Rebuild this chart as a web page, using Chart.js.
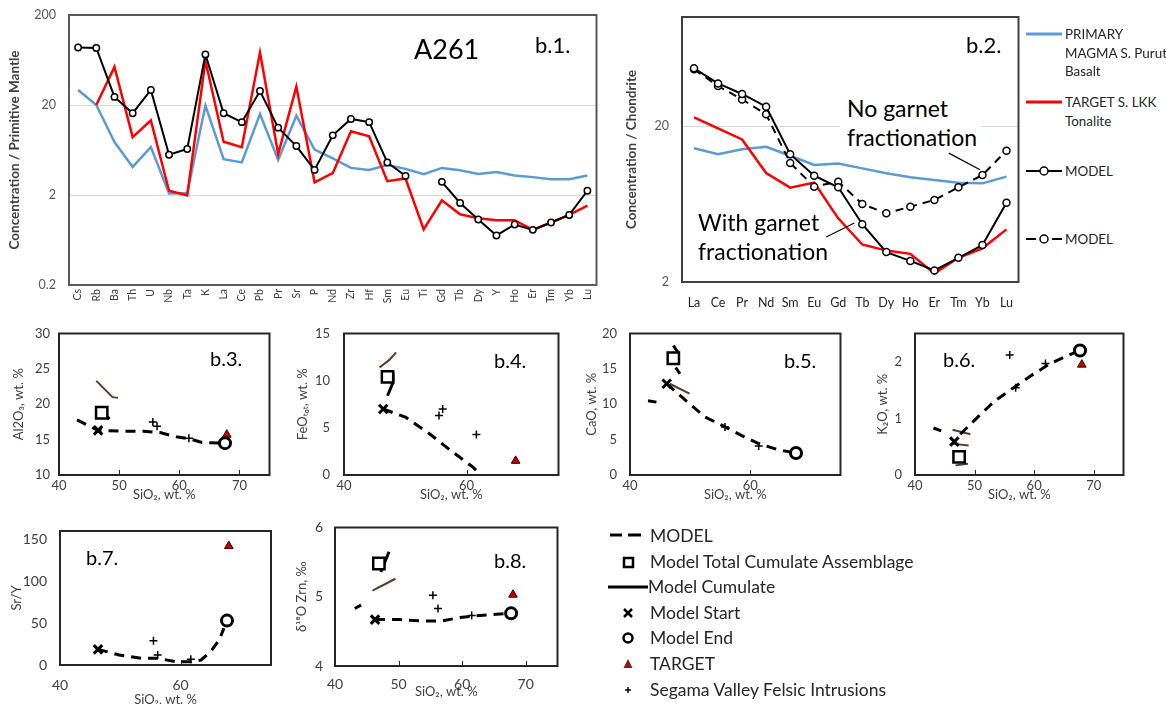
<!DOCTYPE html>
<html>
<head>
<meta charset="utf-8">
<script src="https://cdn.jsdelivr.net/npm/chart.js@4.4.1/dist/chart.umd.min.js"></script>
<style>
  html, body { margin: 0; padding: 0; background: #fff; overflow: hidden; }
  body { width: 1166px; height: 704px; position: relative; font-family: Lato, "Open Sans", sans-serif; color: #262626; }
  canvas { position: absolute; }
  .lbl { position: absolute; white-space: nowrap; transform: translateY(-50%); line-height: 1; }
  .note { position: absolute; white-space: nowrap; background: #fff; font-size: 23px; line-height: 29px; color: #000; }
  .leg { position: absolute; white-space: nowrap; font-size: 13.4px; line-height: 18.5px; color: #262626; }
  .bl { position: absolute; left: 650px; white-space: nowrap; font-size: 17.5px; color: #262626; transform: translateY(-50%); line-height: 1; }
  svg { position: absolute; overflow: visible; }
</style>
</head>
<body>
<canvas id="b1" width="602" height="310" style="left:0;top:5px"></canvas>
<canvas id="b2" width="404" height="305" style="left:620px;top:7px"></canvas>
<canvas id="b3" width="280" height="180" style="left:0;top:323px"></canvas>
<canvas id="b4" width="279" height="180" style="left:290px;top:323px"></canvas>
<canvas id="b5" width="271" height="180" style="left:580px;top:323px"></canvas>
<canvas id="b6" width="264" height="180" style="left:870px;top:323px"></canvas>
<canvas id="b7" width="280" height="191" style="left:0;top:521px"></canvas>
<canvas id="b8" width="278" height="187" style="left:290px;top:517px"></canvas>

<div class="lbl" style="left:414px;top:48px;font-size:27px;color:#000">A261</div>
<div class="lbl" style="left:535px;top:45px;font-size:22px;color:#000">b.1.</div>
<div class="lbl" style="left:966px;top:45px;font-size:22px;color:#000">b.2.</div>
<div class="note" style="left:840px;top:94px;padding:0 4px 0 7px">No garnet<br>fractionation</div>
<div class="note" style="left:698px;top:208px;background:transparent">With garnet<br>fractionation</div>

<div class="lbl" style="left:210px;top:358px;font-size:20px;color:#000">b.3.</div>
<div class="lbl" style="left:494px;top:360px;font-size:20px;color:#000">b.4.</div>
<div class="lbl" style="left:784px;top:360px;font-size:20px;color:#000">b.5.</div>
<div class="lbl" style="left:943px;top:359px;font-size:20px;color:#000">b.6.</div>
<div class="lbl" style="left:86px;top:557px;font-size:20px;color:#000">b.7.</div>
<div class="lbl" style="left:494px;top:560px;font-size:20px;color:#000">b.8.</div>

<!-- b.1 / b.2 legend -->
<svg width="40" height="240" style="left:1024px;top:20px">
  <line x1="2" y1="14" x2="38" y2="14" stroke="#5b9bd5" stroke-width="3"/>
  <line x1="2" y1="82" x2="38" y2="82" stroke="#ff0000" stroke-width="3"/>
  <line x1="2" y1="151" x2="38" y2="151" stroke="#000" stroke-width="2"/>
  <circle cx="20" cy="151" r="4" fill="#fff" stroke="#000" stroke-width="1.5"/>
  <line x1="2" y1="219" x2="12" y2="219" stroke="#000" stroke-width="2"/>
  <line x1="28" y1="219" x2="38" y2="219" stroke="#000" stroke-width="2"/>
  <circle cx="20" cy="219" r="4" fill="#fff" stroke="#000" stroke-width="1.5"/>
</svg>
<div class="leg" style="left:1065px;top:25px">PRIMARY<br>MAGMA S. Purut<br>Basalt</div>
<div class="leg" style="left:1065px;top:93px">TARGET S. LKK<br>Tonalite</div>
<div class="leg" style="left:1065px;top:162px">MODEL</div>
<div class="leg" style="left:1065px;top:230px">MODEL</div>

<!-- bottom legend -->
<svg width="50" height="170" style="left:605px;top:525px">
  <line x1="5" y1="10" x2="17" y2="10" stroke="#000" stroke-width="3"/>
  <line x1="23" y1="10" x2="36" y2="10" stroke="#000" stroke-width="3"/>
  <rect x="19" y="33" width="9" height="9" fill="#fff" stroke="#000" stroke-width="2.5"/>
  <line x1="3" y1="62" x2="43" y2="62" stroke="#000" stroke-width="3"/>
  <line x1="19" y1="84" x2="27" y2="92" stroke="#000" stroke-width="2.5"/>
  <line x1="27" y1="84" x2="19" y2="92" stroke="#000" stroke-width="2.5"/>
  <circle cx="23" cy="113" r="4.5" fill="#fff" stroke="#000" stroke-width="2.5"/>
  <polygon points="23,134 27.5,143 18.5,143" fill="#8b1a1a"/>
  <line x1="20" y1="165" x2="26" y2="165" stroke="#000" stroke-width="1.5"/>
  <line x1="23" y1="162" x2="23" y2="168" stroke="#000" stroke-width="1.5"/>
</svg>
<div class="bl" style="top:536px">MODEL</div>
<div class="bl" style="top:562px">Model Total Cumulate Assemblage</div>
<div class="bl" style="top:587px;left:648px">Model Cumulate</div>
<div class="bl" style="top:613px">Model Start</div>
<div class="bl" style="top:638px">Model End</div>
<div class="bl" style="top:664px">TARGET</div>
<div class="bl" style="top:690px">Segama Valley Felsic Intrusions</div>

<script>
// b.1 trace elements normalised to primitive mantle
const traceLabels = ['Cs','Rb','Ba','Th','U','Nb','Ta','K','La','Ce','Pb','Pr','Sr','P','Nd','Zr','Hf','Sm','Eu','Ti','Gd','Tb','Dy','Y','Ho','Er','Tm','Yb','Lu'];
const traceModel = [87,86,24.6,16.2,29.4,5.6,6.5,73,16.2,12.9,28.6,11.2,7.0,3.8,9.2,14.0,12.9,4.6,3.26,null,2.8,1.63,1.07,0.71,0.94,0.82,0.99,1.20,2.23];
const traceTarget = [null,20,53,8.8,13.5,2.23,1.98,62,7.8,6.8,76.6,5.7,32,2.77,3.5,10.2,9.0,2.85,3.05,0.83,1.75,1.22,1.1,1.05,1.05,0.82,0.99,1.2,1.52];
const tracePrimary = [29.4,20,7.75,4.1,6.8,2.08,2.1,19.7,5.0,4.6,15.9,4.9,15.2,6.4,5.1,4.0,3.8,4.3,3.9,3.4,4.0,3.77,3.43,3.6,3.3,3.16,3.0,3.0,3.3];
const traceTicks = [0.2, 2, 20, 200];

// b.2 REE normalised to chondrite
const reeLabels = ['La','Ce','Pr','Nd','Sm','Eu','Gd','Tb','Dy','Ho','Er','Tm','Yb','Lu'];
const reeModelGarnet = [46.9,37.5,32.1,26.6,13.2,9.6,8.1,4.69,3.11,2.73,2.37,2.86,3.45,6.45];
const reeModelNoGarnet = [46.2,36.1,29.6,23.8,11.6,8.17,8.8,6.32,5.51,6.08,6.71,8.09,9.7,13.9];
const reeTarget = [22.7,19.3,16.4,10.0,8.05,8.67,5.12,3.48,3.18,3.03,2.27,2.86,3.29,4.35];
const reePrimary = [14.4,13.2,14.2,14.7,12.9,11.25,11.5,10.7,9.95,9.38,9.02,8.67,8.58,9.47];
const reeTicks = [2, 20];
// pointer lines for the two notes, in category index / value units
const reePointers = [[[10.6,13.4],[11.9,10.5]], [[5.5,3.89],[6.67,4.78]]];

// SiO2 ticks
const siTicks = [40, 50, 60, 70];
const siTicksSparse = [40, 60];

// b.3 Al2O3
const alModel = [[43.0,17.8],[46.5,16.3],[50.4,16.2],[54.1,16.2],[56.8,16.0],[59.5,15.4],[61.7,15.1],[63.8,14.6],[67.6,14.5]];
const alCumulate = [[46.2,23.3],[48.9,21.0],[49.8,20.9]];
const alCumulateDark = [[47.6,18.6],[48.4,17.9]];
const alAssemblage = [[47.1,18.8]];
const alStart = [[46.5,16.3]];
const alEnd = [[67.6,14.5]];
const alTarget = [[67.9,15.7]];
const alSegama = [[55.6,17.5],[56.3,16.9],[61.6,15.2]];

// b.4 FeOTot
const feModel = [[46.4,7.0],[50.1,6.1],[53.9,4.4],[57.6,2.5],[60.9,0.9],[62.4,0.0]];
const feCumulate = [[45.8,11.4],[47.4,12.2],[48.5,13.0]];
const feCumulateDark = [[48.0,10.9],[48.0,9.8],[47.1,8.4]];
const feAssemblage = [[47.1,10.4]];
const feStart = [[46.4,7.0]];
const feEnd = [];
const feTarget = [[68.0,1.5]];
const feSegama = [[55.5,6.3],[56.1,7.0],[61.6,4.3]];

// b.5 CaO
const caModel = [[43.0,10.5],[44.4,10.3],null,[46.1,12.9],[49.3,10.5],[52.5,8.2],[55.8,6.8],[58.5,5.6],[61.2,4.5],[64.5,3.6],[67.5,3.1]];
const caCumulate = [[46.6,12.9],[49.9,11.5]];
const caCumulateDark = [[47.2,18.3],[48.0,17.3],null,[47.6,15.2],[48.3,14.3]];
const caAssemblage = [[47.2,16.5]];
const caStart = [[46.1,12.9]];
const caEnd = [[67.6,3.1]];
const caTarget = [[67.9,3.2]];
const caSegama = [[55.8,6.8],[61.4,4.1]];

// b.6 K2O
const kModel = [[43.1,0.83],[44.4,0.78],null,[47.6,0.72],[50.7,1.04],[53.4,1.31],[56.1,1.51],[59.4,1.75],[62.4,1.95],[65.4,2.1],[67.6,2.2]];
const kCumulate = [[46.3,0.80],[49.3,0.72],null,[46.5,0.55],[49.0,0.52],null,[46.8,0.17],[48.9,0.2]];
const kAssemblage = [[47.4,0.32]];
const kStart = [[46.6,0.59]];
const kEnd = [[67.7,2.2]];
const kTarget = [[68.0,1.95]];
const kSegama = [[55.9,2.12],[56.9,1.54],[61.9,1.97]];

// b.7 Sr/Y
const srModel = [[46.3,18.7],[49.8,12],[53.6,8],[56.3,8],[59.1,4],[61.8,4],[63.4,6],[65.0,16],[66.4,30],[67.2,44]];
const srStart = [[46.3,18.7]];
const srEnd = [[67.7,53]];
const srTarget = [[68.0,142]];
const srSegama = [[55.5,29],[56.2,12],[61.7,7]];

// b.8 d18O zircon
const oModel = [[43.1,4.83],[44.1,4.88],null,[46.3,4.67],[50,4.67],[53.6,4.65],[56.7,4.65],[59.7,4.70],[62.8,4.73],[65.9,4.75],[67.7,4.76]];
const oCumulate = [[45.9,5.09],[49.5,5.26]];
const oCumulateDark = [[47.2,5.36],[48.5,5.65]];
const oAssemblage = [[46.9,5.48]];
const oStart = [[46.3,4.67]];
const oEnd = [[67.7,4.76]];
const oTarget = [[68.0,5.03]];
const oSegama = [[55.4,5.02],[56.2,4.83],[61.5,4.73]];

Chart.defaults.font.family = "Lato, 'Open Sans', sans-serif";
Chart.defaults.color = '#404040';

// keep the plot box where layout.padding puts it (no label overhang padding)
const fixW = w => s => { s.width = w; s.paddingTop = 0; s.paddingBottom = 0; };
const fixH = h => s => { s.height = h; s.paddingLeft = 0; s.paddingRight = 0; };

// full box round the plot area + small inward ticks on x
const boxFrame = {
  id: 'boxFrame',
  afterDraw(chart, args, opts) {
    const a = chart.chartArea, ctx = chart.ctx;
    ctx.save();
    ctx.strokeStyle = opts.color || '#262626';
    ctx.lineWidth = opts.width || 2;
    ctx.strokeRect(a.left, a.top, a.right - a.left, a.bottom - a.top);
    if (opts.inTicks) {
      const xs = chart.scales.x;
      ctx.lineWidth = 1;
      xs.ticks.forEach(t => {
        if (t.value > xs.min && t.value < xs.max) {
          const px = Math.round(xs.getPixelForValue(t.value)) + 0.5;
          ctx.beginPath();
          ctx.moveTo(px, a.bottom);
          ctx.lineTo(px, a.bottom - 5);
          ctx.stroke();
        }
      });
    }
    ctx.restore();
  }
};

const pointerLines = {
  id: 'pointerLines',
  afterDatasetsDraw(chart, args, opts) {
    const xs = chart.scales.x, ys = chart.scales.y, ctx = chart.ctx;
    ctx.save();
    ctx.strokeStyle = '#000';
    ctx.lineWidth = 1.2;
    (opts.lines || []).forEach(l => {
      ctx.beginPath();
      ctx.moveTo(xs.getPixelForValue(l[0][0]), ys.getPixelForValue(l[0][1]));
      ctx.lineTo(xs.getPixelForValue(l[1][0]), ys.getPixelForValue(l[1][1]));
      ctx.stroke();
    });
    ctx.restore();
  }
};

// b.1
new Chart(document.getElementById('b1'), {
  type: 'line',
  data: {
    labels: traceLabels,
    datasets: [
      { data: traceModel, borderColor: '#000', borderWidth: 2, pointRadius: 3.2, pointBorderWidth: 1.5,
        pointBackgroundColor: '#fff', pointBorderColor: '#000', spanGaps: false },
      { data: traceTarget, borderColor: '#ff0000', borderWidth: 2.5, pointRadius: 0 },
      { data: tracePrimary, borderColor: '#5b9bd5', borderWidth: 2.5, pointRadius: 0 }
    ]
  },
  options: {
    responsive: false, animation: false,
    layout: { padding: { top: 10, right: 5, left: 0, bottom: 0 } },
    scales: {
      x: {
        offset: true, grid: { display: false, drawTicks: false }, border: { display: false },
        ticks: { autoSkip: false, minRotation: 90, maxRotation: 90, padding: 4, font: { size: 10.5 }, color: '#404040' },
        afterFit: fixH(30)
      },
      y: {
        type: 'logarithmic', min: 0.2, max: 200, border: { display: false },
        grid: { drawTicks: false, color: c => (c.tick && (c.tick.value === 2 || c.tick.value === 20)) ? '#d9d9d9' : 'rgba(0,0,0,0)' },
        afterBuildTicks: s => { s.ticks = traceTicks.map(v => ({ value: v })); },
        ticks: { padding: 13, font: { size: 12.5 }, color: '#595959', callback: v => String(v) },
        title: { display: true, text: 'Concentration / Primitive Mantle', font: { size: 13.5, weight: 'bold' }, color: '#404040', padding: { top: 7, bottom: 0 } },
        afterFit: fixW(69)
      }
    },
    plugins: { legend: { display: false }, tooltip: { enabled: false }, boxFrame: { color: '#595959', width: 2 } }
  },
  plugins: [boxFrame]
});

// b.2
new Chart(document.getElementById('b2'), {
  type: 'line',
  data: {
    labels: reeLabels,
    datasets: [
      { data: reeModelGarnet, borderColor: '#000', borderWidth: 2, pointRadius: 3.5, pointBorderWidth: 1.5,
        pointBackgroundColor: '#fff', pointBorderColor: '#000' },
      { data: reeModelNoGarnet, borderColor: '#000', borderWidth: 2, borderDash: [8, 6], pointRadius: 3.5, pointBorderWidth: 1.5,
        pointBackgroundColor: '#fff', pointBorderColor: '#000' },
      { data: reeTarget, borderColor: '#ff0000', borderWidth: 2.5, pointRadius: 0 },
      { data: reePrimary, borderColor: '#5b9bd5', borderWidth: 2.5, pointRadius: 0 }
    ]
  },
  options: {
    responsive: false, animation: false,
    layout: { padding: { top: 10, right: 5, left: 0, bottom: 0 } },
    scales: {
      x: {
        offset: true, grid: { display: false, drawTicks: false }, border: { display: false },
        ticks: { autoSkip: false, minRotation: 0, maxRotation: 0, padding: 13, font: { size: 12.5 }, color: '#262626' },
        afterFit: fixH(30)
      },
      y: {
        type: 'logarithmic', min: 2, max: 100, border: { display: false },
        grid: { drawTicks: false, color: c => (c.tick && c.tick.value === 20) ? '#d9d9d9' : 'rgba(0,0,0,0)' },
        afterBuildTicks: s => { s.ticks = reeTicks.map(v => ({ value: v })); },
        ticks: { padding: 13, font: { size: 12.5 }, color: '#595959', callback: v => String(v) },
        title: { display: true, text: 'Concentration / Chondrite', font: { size: 13.5, weight: 'bold' }, color: '#404040', padding: { top: 4, bottom: 0 } },
        afterFit: fixW(62)
      }
    },
    plugins: { legend: { display: false }, tooltip: { enabled: false },
      boxFrame: { color: '#404040', width: 2 }, pointerLines: { lines: reePointers } }
  },
  plugins: [boxFrame, pointerLines]
});

// small SiO2 panels
function scatterPanel(id, p) {
  const pts = a => (a || []).map(q => q ? { x: q[0], y: q[1] } : { x: null, y: null });
  const line = (d, color, width, dash) => ({ data: pts(d), showLine: true, borderColor: color, borderWidth: width,
    borderDash: dash || [], pointRadius: 0, spanGaps: false });
  const marker = (d, style, r, bg, border, bw) => ({ data: pts(d), showLine: false, pointStyle: style, pointRadius: r,
    pointBackgroundColor: bg, pointBorderColor: border, pointBorderWidth: bw });
  const datasets = [
    marker(p.end, 'circle', 5.5, '#fff', '#000', 3),
    marker(p.target, 'triangle', 5, '#c00000', '#3a0000', 1),
    marker(p.start, 'crossRot', 6, '#000', '#000', 3),
    marker(p.segama, 'cross', 4, '#000', '#000', 1.5),
    marker(p.assemblage, 'rect', 8, '#fff', '#000', 2.5),
    line(p.cumulateDark, '#000', 3),
    line(p.model, '#000', 3, [10, 7]),
    line(p.cumulate, '#5b3a29', 2)
  ];
  new Chart(document.getElementById(id), {
    type: 'scatter',
    data: { datasets: datasets },
    options: {
      responsive: false, animation: false,
      layout: { padding: { top: 10, right: 5, left: 0, bottom: 0 } },
      scales: {
        x: {
          type: 'linear', min: 40, max: 75, grid: { display: false, drawTicks: false }, border: { display: false },
          afterBuildTicks: s => { s.ticks = p.xTicks.map(v => ({ value: v })); },
          ticks: { padding: p.xPad, autoSkip: false, maxRotation: 0, font: { size: p.font }, color: '#404040' },
          title: { display: true, text: 'SiO\u2082, wt. %', font: { size: 13 }, color: '#404040', padding: { top: 0, bottom: p.xTitlePad } },
          afterFit: fixH(p.xH)
        },
        y: {
          type: 'linear', min: p.yMin, max: p.yMax, grid: { display: false, drawTicks: false }, border: { display: false },
          afterBuildTicks: s => { s.ticks = p.yTicks.map(v => ({ value: v })); },
          ticks: { padding: p.yPad, font: { size: p.font }, color: '#404040' },
          title: { display: true, text: p.yTitle, font: { size: 13 }, color: '#404040', padding: { top: p.yTitlePad, bottom: 0 } },
          afterFit: fixW(p.yW)
        }
      },
      plugins: { legend: { display: false }, tooltip: { enabled: false }, boxFrame: { color: '#262626', width: 2, inTicks: true } }
    },
    plugins: [boxFrame]
  });
}

scatterPanel('b3', { model: alModel, cumulate: alCumulate, cumulateDark: alCumulateDark, assemblage: alAssemblage,
  start: alStart, end: alEnd, target: alTarget, segama: alSegama,
  xTicks: siTicks, yTicks: [10, 15, 20, 25, 30], yMin: 10, yMax: 30, yTitle: 'Al2O\u2083, wt. %',
  yW: 59, xH: 28, xPad: 3, xTitlePad: 0.5, yPad: 9, yTitlePad: 11, font: 13 });

scatterPanel('b4', { model: feModel, cumulate: feCumulate, cumulateDark: feCumulateDark, assemblage: feAssemblage,
  start: feStart, end: feEnd, target: feTarget, segama: feSegama,
  xTicks: siTicksSparse, yTicks: [0, 5, 10, 15], yMin: 0, yMax: 15, yTitle: 'FeO\u209c\u2092\u209c, wt. %',
  yW: 54, xH: 28, xPad: 3, xTitlePad: 0.5, yPad: 14, yTitlePad: 5, font: 13 });

scatterPanel('b5', { model: caModel, cumulate: caCumulate, cumulateDark: caCumulateDark, assemblage: caAssemblage,
  start: caStart, end: caEnd, target: caTarget, segama: caSegama,
  xTicks: siTicksSparse, yTicks: [0, 5, 10, 15, 20], yMin: 0, yMax: 20, yTitle: 'CaO, wt. %',
  yW: 50, xH: 28, xPad: 3, xTitlePad: 0.5, yPad: 13, yTitlePad: 4, font: 13 });

scatterPanel('b6', { model: kModel, cumulate: kCumulate, assemblage: kAssemblage,
  start: kStart, end: kEnd, target: kTarget, segama: kSegama,
  xTicks: siTicks, yTicks: [0, 1, 2], yMin: 0, yMax: 2.5, yTitle: 'K\u2082O, wt. %',
  yW: 45, xH: 28, xPad: 3, xTitlePad: 0.5, yPad: 13, yTitlePad: 5, font: 13 });

scatterPanel('b7', { model: srModel, start: srStart, end: srEnd, target: srTarget, segama: srSegama,
  xTicks: siTicksSparse, yTicks: [0, 50, 100, 150], yMin: 0, yMax: 160, yTitle: 'Sr/Y',
  yW: 60, xH: 47, xPad: 12, xTitlePad: 4.5, yPad: 13, yTitlePad: 9, font: 14 });

scatterPanel('b8', { model: oModel, cumulate: oCumulate, cumulateDark: oCumulateDark, assemblage: oAssemblage,
  start: oStart, end: oEnd, target: oTarget, segama: oSegama,
  xTicks: siTicks, yTicks: [4, 5, 6], yMin: 4, yMax: 6, yTitle: '\u03b4\u00b9\u2078O Zrn, \u2030',
  yW: 45, xH: 38, xPad: 10, xTitlePad: 4.5, yPad: 12, yTitlePad: 4, font: 14 });
</script>
</body>
</html>
